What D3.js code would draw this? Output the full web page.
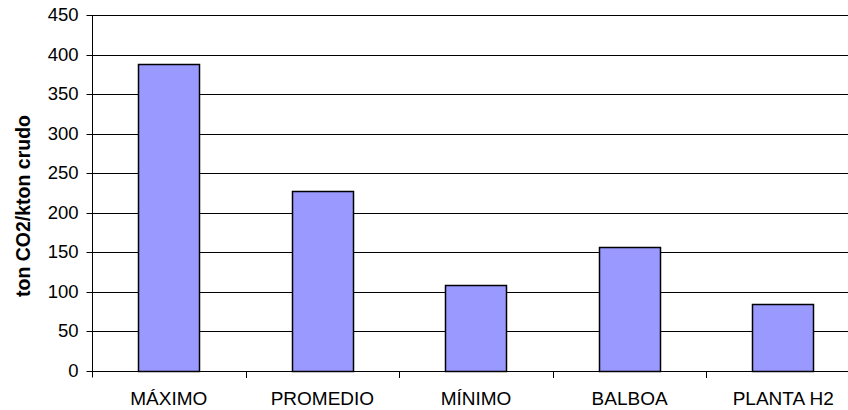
<!DOCTYPE html>
<html>
<head>
<meta charset="utf-8">
<script src="https://cdn.jsdelivr.net/npm/d3@7"></script>
<style>
  html, body { margin: 0; padding: 0; background: #fff; }
  svg { display: block; }
  text { font-family: "Liberation Sans", Arial, sans-serif; fill: #000; }
</style>
</head>
<body>
<svg id="chart" width="848" height="410"></svg>
<script>
const categories = ["MÁXIMO", "PROMEDIO", "MÍNIMO", "BALBOA", "PLANTA H2"];
const values = [388, 227, 109, 157, 85];
const yTicks = [0, 50, 100, 150, 200, 250, 300, 350, 400, 450];
const yLabel = "ton CO2/kton crudo";

const W = 848, H = 410;
const mLeft = 92, mRight = 860, mTop = 15, mBottom = 371;

const svg = d3.select("#chart");

const x = d3.scaleBand().domain(categories).range([mLeft, mRight]).paddingInner(0.6).paddingOuter(0.3);
const xOuter = d3.scaleBand().domain(categories).range([mLeft, mRight]);
const y = d3.scaleLinear().domain([0, 450]).range([mBottom, mTop]);

// gridlines
svg.append("g").selectAll("line").data(yTicks.filter(d => d > 0)).join("line")
  .attr("x1", mLeft).attr("x2", W)
  .attr("y1", d => Math.round(y(d)) + 0.5).attr("y2", d => Math.round(y(d)) + 0.5)
  .attr("stroke", "#000").attr("stroke-width", 1);

// bars
svg.append("g").selectAll("rect").data(values).join("rect")
  .attr("x", (d, i) => Math.round(x(categories[i])) + 0.5)
  .attr("width", Math.round(x.bandwidth()))
  .attr("y", d => Math.round(y(d)) + 0.5)
  .attr("height", d => Math.round(y(0)) - Math.round(y(d)))
  .attr("fill", "#9999FF")
  .attr("stroke", "#000")
  .attr("stroke-width", 1.5);

// y axis
const yAxis = d3.axisLeft(y).tickValues(yTicks).tickSize(6).tickPadding(8).tickFormat(d3.format("d"));
const gy = svg.append("g").attr("transform", `translate(${mLeft + 0.5},0.5)`).call(yAxis);
gy.select(".domain").attr("d", `M0,${mTop}V${mBottom + 6}`).attr("stroke", "#000");
gy.selectAll(".tick").attr("transform", d => `translate(0,${Math.round(y(d))})`);
gy.selectAll(".tick line").attr("stroke", "#000");
gy.selectAll(".tick text").attr("font-size", 18.5).attr("font-family", "Liberation Sans, Arial, sans-serif").attr("fill", "#000").attr("x", -14);

// x axis
const xAxis = d3.axisBottom(xOuter).tickSize(0).tickPadding(20);
const gx = svg.append("g").attr("transform", `translate(0,${Math.round(y(0)) + 0.5})`).call(xAxis);
gx.select(".domain").attr("d", `M${mLeft},0H${W}`).attr("stroke", "#000");
gx.selectAll(".tick text").attr("font-size", 19).attr("font-family", "Liberation Sans, Arial, sans-serif").attr("fill", "#000").attr("dy", "0.71em").attr("y", 20);
// category separator ticks
svg.append("g").selectAll("line").data(categories.slice(1)).join("line")
  .attr("x1", d => Math.round(xOuter(d)) + 0.5).attr("x2", d => Math.round(xOuter(d)) + 0.5)
  .attr("y1", Math.round(y(0))).attr("y2", Math.round(y(0)) + 7)
  .attr("stroke", "#000");

// y label
svg.append("text")
  .attr("transform", `translate(30,206) rotate(-90)`)
  .attr("text-anchor", "middle")
  .attr("font-size", 19.5)
  .attr("font-weight", "bold")
  .text(yLabel);
</script>
</body>
</html>
